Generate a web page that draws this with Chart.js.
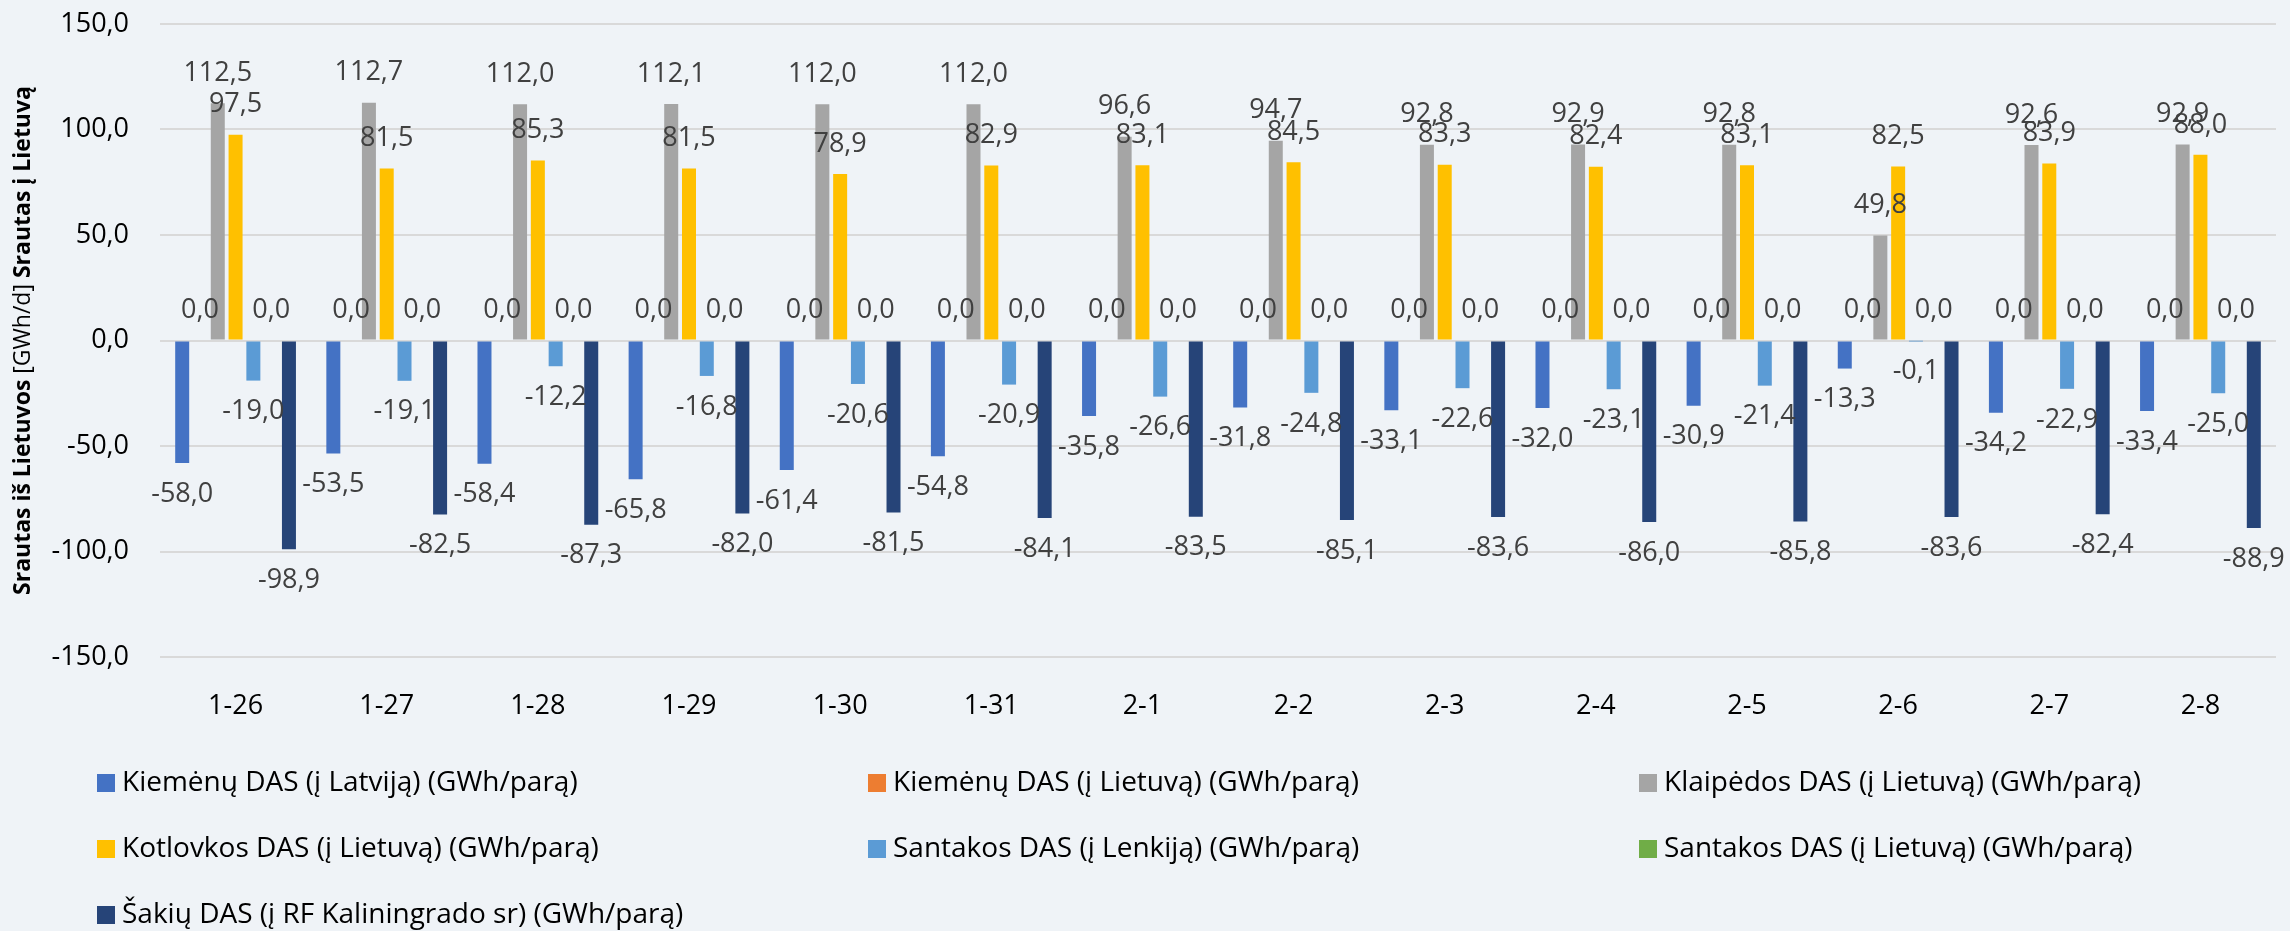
<!DOCTYPE html>
<html>
<head>
<meta charset="utf-8">
<script src="https://cdn.jsdelivr.net/npm/chart.js@4.4.1/dist/chart.umd.min.js"></script>
<style>
html,body{margin:0;padding:0;background:#EFF3F7;overflow:hidden;}
canvas{display:block;}
</style>
</head>
<body>
<canvas id="c" width="2290" height="931"></canvas>
<script>
// ---- Data ----
const categories = ['1-26','1-27','1-28','1-29','1-30','1-31','2-1','2-2','2-3','2-4','2-5','2-6','2-7','2-8'];
const kiemenuLatvija = [-58.0,-53.5,-58.4,-65.8,-61.4,-54.8,-35.8,-31.8,-33.1,-32.0,-30.9,-13.3,-34.2,-33.4];
const kiemenuLietuva = [0,0,0,0,0,0,0,0,0,0,0,0,0,0];
const klaipedosLietuva = [112.5,112.7,112.0,112.1,112.0,112.0,96.6,94.7,92.8,92.9,92.8,49.8,92.6,92.9];
const kotlovkosLietuva = [97.5,81.5,85.3,81.5,78.9,82.9,83.1,84.5,83.3,82.4,83.1,82.5,83.9,88.0];
const santakosLenkija = [-19.0,-19.1,-12.2,-16.8,-20.6,-20.9,-26.6,-24.8,-22.6,-23.1,-21.4,-0.1,-22.9,-25.0];
const santakosLietuva = [0,0,0,0,0,0,0,0,0,0,0,0,0,0];
const sakiuKaliningradas = [-98.9,-82.5,-87.3,-82.0,-81.5,-84.1,-83.5,-85.1,-83.6,-86.0,-85.8,-83.6,-82.4,-88.9];
const seriesNames = [
  'Kiemėnų DAS (į Latviją) (GWh/parą)',
  'Kiemėnų DAS (į Lietuvą) (GWh/parą)',
  'Klaipėdos DAS (į Lietuvą) (GWh/parą)',
  'Kotlovkos DAS (į Lietuvą) (GWh/parą)',
  'Santakos DAS (į Lenkiją) (GWh/parą)',
  'Santakos DAS (į Lietuvą) (GWh/parą)',
  'Šakių DAS (į RF Kaliningrado sr) (GWh/parą)'
];
const seriesColors = ['#4472C4','#ED7D31','#A5A5A5','#FFC000','#5B9BD5','#70AD47','#264478'];
const yTickValues = [-150,-100,-50,0,50,100,150];
const yTitleParts = [['Srautas iš Lietuvos','bold'],[' [GWh/d] ','normal'],['Srautas į Lietuvą','bold']];

const FONT = "'Open Sans', 'Noto Sans', sans-serif";
const fmt = v => Number(v).toFixed(1).replace('.', ',');

const seriesData = [kiemenuLatvija, kiemenuLietuva, klaipedosLietuva, kotlovkosLietuva, santakosLenkija, santakosLietuva, sakiuKaliningradas];

const valueLabels = {
  id: 'valueLabels',
  afterDatasetsDraw(chart) {
    const ctx = chart.ctx;
    ctx.save();
    ctx.font = '27px ' + FONT;
    ctx.fillStyle = '#404040';
    ctx.textAlign = 'center';
    ctx.textBaseline = 'middle';
    chart.data.datasets.forEach((ds, i) => {
      const meta = chart.getDatasetMeta(i);
      meta.data.forEach((bar, j) => {
        const v = ds.data[j];
        const y = v >= 0 ? bar.y - 30 : bar.y + 31;
        ctx.fillText(fmt(v), bar.x, y);
      });
    });
    ctx.restore();
  }
};

const yTitle = {
  id: 'yTitle',
  afterDraw(chart) {
    const ctx = chart.ctx;
    const size = 23;
    ctx.save();
    let total = 0;
    const widths = yTitleParts.map(([t, w]) => {
      ctx.font = w + ' ' + size + 'px ' + FONT;
      const m = ctx.measureText(t).width;
      total += m;
      return m;
    });
    const ca = chart.chartArea;
    ctx.translate(23, (ca.top + ca.bottom) / 2);
    ctx.rotate(-Math.PI / 2);
    ctx.fillStyle = '#000';
    ctx.textAlign = 'left';
    ctx.textBaseline = 'middle';
    let x = -total / 2;
    yTitleParts.forEach(([t, w], k) => {
      ctx.font = w + ' ' + size + 'px ' + FONT;
      ctx.fillText(t, x, 0);
      x += widths[k];
    });
    ctx.restore();
  }
};

const gridLegend = {
  id: 'gridLegend',
  afterDraw(chart) {
    const ctx = chart.ctx;
    ctx.save();
    ctx.font = '28px ' + FONT;
    ctx.textAlign = 'left';
    ctx.textBaseline = 'middle';
    chart.data.datasets.forEach((ds, i) => {
      const col = i % 3, row = Math.floor(i / 3);
      const x0 = 97 + col * 771;
      const yc = 783 + row * 66;
      ctx.fillStyle = ds.backgroundColor;
      ctx.fillRect(x0, yc - 9, 18, 18);
      ctx.fillStyle = '#000';
      ctx.fillText(ds.label, x0 + 25, yc);
    });
    ctx.restore();
  }
};

new Chart(document.getElementById('c'), {
  type: 'bar',
  data: {
    labels: categories,
    datasets: seriesData.map((d, i) => ({
      label: seriesNames[i],
      data: d,
      backgroundColor: seriesColors[i],
      borderWidth: 0,
      categoryPercentage: 0.824,
      barPercentage: 0.787
    }))
  },
  options: {
    responsive: false,
    animation: false,
    devicePixelRatio: 1,
    layout: { padding: { top: 24, right: 14, bottom: 214, left: 0 } },
    plugins: { legend: { display: false }, tooltip: { enabled: false }, title: { display: false } },
    scales: {
      x: {
        grid: { display: false },
        border: { display: false },
        ticks: { color: '#000', font: { size: 27, family: FONT }, padding: 25, maxRotation: 0, autoSkip: false },
        afterFit(s) { s.height = 60; s.paddingLeft = 0; s.paddingRight = 0; }
      },
      y: {
        min: -150, max: 150,
        afterBuildTicks(s) { s.ticks = yTickValues.map(v => ({ value: v })); },
        ticks: { callback: v => fmt(v), color: '#000', font: { size: 27, family: FONT }, padding: 31 },
        grid: { color: '#D9D9D9', lineWidth: 2, drawTicks: false },
        border: { display: false },
        afterFit(s) { s.width = 160; s.paddingTop = 0; s.paddingBottom = 0; }
      }
    }
  },
  plugins: [valueLabels, yTitle, gridLegend]
});
</script>
</body>
</html>
